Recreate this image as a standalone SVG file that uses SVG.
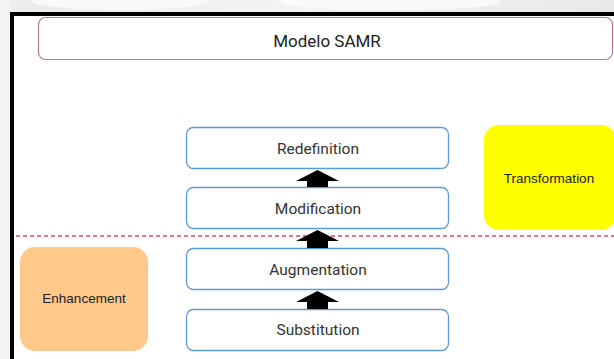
<svg xmlns="http://www.w3.org/2000/svg" width="614" height="359" viewBox="0 0 614 359">
  <style>
    .level rect { fill: #ffffff; stroke: #5b9bd5; stroke-width: 1.3; }
    .level text { font-family: Roboto, "Liberation Sans", sans-serif; font-size: 15.5px; fill: #333333; text-anchor: middle; }
    .phase text { font-family: "Liberation Sans", Arial, sans-serif; font-size: 13.5px; fill: #222222; text-anchor: middle; }
    .arrow { fill: #000000; }
  </style>
  <defs>
    <linearGradient id="haze" x1="0" y1="0" x2="1" y2="0">
      <stop offset="0" stop-color="#ececec"/>
      <stop offset="0.5" stop-color="#f3f3f3"/>
      <stop offset="1" stop-color="#e9e9e9"/>
    </linearGradient>
  </defs>

  <!-- page background -->
  <rect x="0" y="0" width="614" height="359" fill="#ffffff"/>
  <rect x="0" y="0" width="614" height="14" fill="url(#haze)"/>
  <rect x="0" y="0" width="11" height="359" fill="#f3f3f3"/>
  <ellipse cx="120" cy="0" rx="90" ry="10" fill="#fafafa"/>
  <ellipse cx="390" cy="2" rx="110" ry="8" fill="#fafafa"/>

  <!-- slide frame -->
  <path d="M12 361 V14 H616" fill="none" stroke="#000000" stroke-width="4"/>

  <!-- title -->
  <g id="title">
    <rect x="38.5" y="17.5" width="574" height="42" rx="7" fill="#ffffff" stroke="#b07a92" stroke-width="1.2"/>
    <text x="327" y="47" font-family="Roboto, 'Liberation Sans', sans-serif" font-size="17" fill="#222222" text-anchor="middle">Modelo SAMR</text>
  </g>

  <!-- boundary between enhancement and transformation -->
  <line x1="16" y1="236" x2="614" y2="236" stroke="#d94a5c" stroke-width="1.3" stroke-dasharray="4 3"/>

  <!-- phases -->
  <g id="transformation" class="phase">
    <rect x="484" y="125" width="132" height="105" rx="15" fill="#ffff00"/>
    <text x="549" y="183">Transformation</text>
  </g>
  <g id="enhancement" class="phase">
    <rect x="20" y="247" width="128" height="104" rx="15" fill="#fec98a"/>
    <text x="84" y="303">Enhancement</text>
  </g>

  <!-- SAMR levels -->
  <g id="redefinition" class="level">
    <rect x="186.5" y="127.5" width="262" height="41" rx="7"/>
    <text x="318" y="154">Redefinition</text>
  </g>
  <g id="modification" class="level">
    <rect x="186.5" y="187.5" width="262" height="41" rx="7"/>
    <text x="318" y="214">Modification</text>
  </g>
  <g id="augmentation" class="level">
    <rect x="186.5" y="248.5" width="262" height="41" rx="7"/>
    <text x="318" y="275">Augmentation</text>
  </g>
  <g id="substitution" class="level">
    <rect x="186.5" y="309.5" width="262" height="41" rx="7"/>
    <text x="318" y="335">Substitution</text>
  </g>

  <!-- upward block arrows between levels -->
  <g id="connectors">
    <path class="arrow" d="M317.5 170 L339 181 H328 V187 H307 V181 H296 Z"/>
    <path class="arrow" d="M317.5 230 L339 241 H328 V248 H307 V241 H296 Z"/>
    <path class="arrow" d="M317.5 291 L339 302 H328 V309 H307 V302 H296 Z"/>
  </g>
</svg>
